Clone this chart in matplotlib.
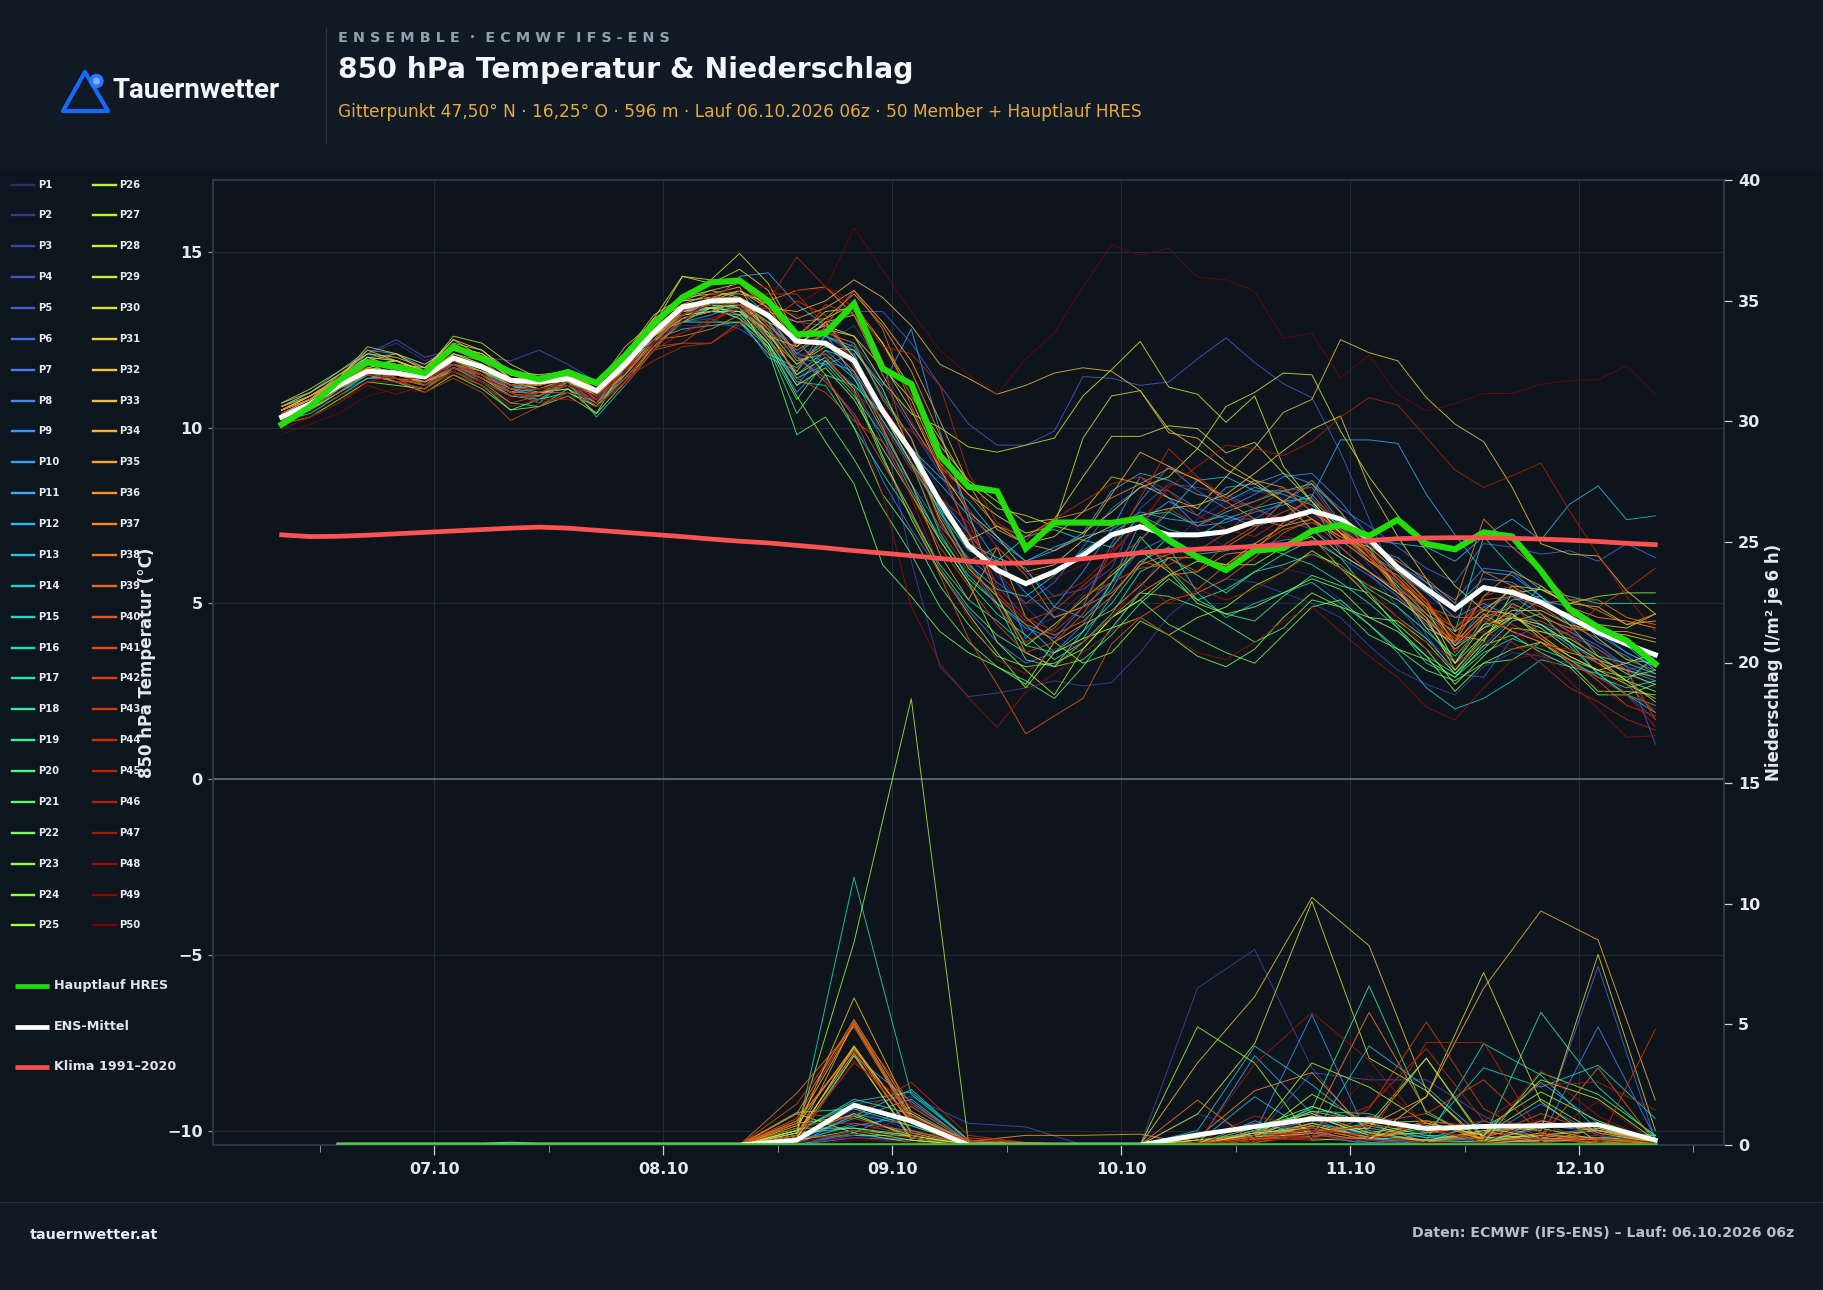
import matplotlib
matplotlib.use('Agg')
import matplotlib.pyplot as plt
import matplotlib.dates as mdates
import pandas as pd
from matplotlib.lines import Line2D
from matplotlib.patches import Circle, Polygon, Rectangle
from matplotlib.transforms import IdentityTransform

# 850 hPa temperature, 3-hourly from 06.10. 08:00 local, one row per member
temp_members = [
    [10.4,10.8,11.2,11.6,11.5,11.3,11.9,11.8,11.5,11.4,11.3,10.9,11.6,12.4,12.9,12.9,12.9,
     12.8,12.4,12.6,12.2,11.0,9.6,8.2,6.9,5.4,4.2,4.6,5.3,6.4,7.4,7.9,7.1,
     6.6,6.2,6.0,5.8,5.1,4.6,4.2,3.6,3.1,3.9,4.2,4.0,3.4,2.9,2.4,2.0],
    [10.5,10.9,11.5,12.1,12.4,11.9,12.2,11.9,11.6,11.5,11.2,10.8,11.5,12.6,13.3,13.4,13.3,
     12.9,12.0,12.4,12.9,11.7,10.2,8.7,7.1,5.8,4.9,4.1,3.6,4.2,5.4,6.6,7.4,
     7.9,8.2,8.0,7.5,7.0,6.1,5.2,4.6,3.3,4.6,5.4,5.0,4.3,3.6,3.1,2.6],
    [10.3,10.6,11.0,11.5,11.3,11.1,11.7,11.5,11.2,11.1,11.2,10.9,11.7,12.6,13.2,13.3,13.2,
     13.0,12.2,12.6,12.1,10.1,6.2,3.2,2.35,2.45,2.6,2.8,2.65,2.75,3.6,4.65,5.3,
     5.7,5.6,5.3,5.0,4.6,3.8,3.1,2.7,2.4,3.2,3.6,3.5,3.3,3.0,2.4,1.7],
    [10.5,10.8,11.4,12.0,12.1,11.8,12.3,12.0,11.9,12.2,11.8,11.3,11.9,12.5,13.0,13.1,12.8,
     12.3,11.4,11.9,12.4,11.3,10.0,8.7,7.7,6.6,5.9,5.2,5.4,6.0,7.7,8.4,8.3,
     8.1,7.7,7.4,7.1,6.6,5.9,4.9,4.0,3.3,3.8,4.6,4.2,3.9,3.4,3.1,3.3],
    [10.4,10.7,11.3,12.1,12.5,12.0,12.2,11.9,11.5,11.5,11.3,11.0,11.6,12.5,13.1,13.3,13.3,
     13.4,13.0,12.9,13.3,13.3,12.4,11.2,10.1,9.5,9.5,9.9,11.45,11.4,11.2,11.3,11.95,
     12.55,11.85,11.25,10.85,9.3,7.4,5.5,4.1,3.0,2.9,4.0,4.4,4.1,3.7,3.2,1.0],
    [10.4,10.8,11.4,11.9,11.7,11.4,11.9,11.6,11.2,11.2,11.4,11.1,11.9,12.8,13.3,13.4,13.4,
     13.0,12.1,11.9,11.2,9.6,8.4,7.2,6.3,5.6,5.0,5.6,6.6,7.7,8.3,8.2,7.7,
     7.4,7.4,7.9,8.4,7.7,7.2,6.6,6.0,5.6,6.7,6.6,6.4,6.5,6.2,6.7,6.3],
    [10.3,10.6,11.1,11.6,11.6,11.3,11.7,11.5,10.9,10.8,11.3,10.9,11.7,12.9,13.2,13.4,13.3,
     12.8,12.0,11.4,10.3,8.5,7.1,5.9,4.8,3.9,3.3,3.6,4.4,5.6,6.5,6.9,6.2,
     6.0,6.6,6.8,6.9,6.3,5.8,5.2,4.4,3.8,4.9,5.2,4.7,4.2,3.8,3.2,2.9],
    [10.2,10.5,11.0,11.4,11.4,11.2,11.8,11.5,11.0,11.1,11.2,10.7,11.5,12.4,13.3,13.5,13.4,
     12.6,11.2,12.2,11.5,10.2,9.0,7.6,6.2,5.0,4.3,4.0,4.9,6.7,7.9,8.9,8.2,
     7.7,8.1,8.6,8.7,7.9,6.9,6.1,5.6,5.1,6.0,5.9,5.2,4.6,4.1,3.6,3.2],
    [10.4,10.7,11.2,11.7,11.6,11.5,11.8,11.4,11.0,11.0,11.2,10.9,12.0,12.9,13.2,13.3,13.2,
     12.4,11.0,11.9,11.6,10.4,9.2,8.0,7.0,6.0,4.0,4.9,5.9,7.1,8.6,8.0,7.2,
     7.3,7.6,7.8,8.1,7.2,6.4,5.9,5.3,4.6,5.0,4.6,4.4,3.9,3.3,3.1,2.8],
    [10.5,10.9,11.4,12.0,11.9,11.5,11.9,11.7,11.1,10.9,11.5,11.0,11.6,12.6,13.4,13.4,13.1,
     12.0,11.6,12.6,12.2,11.2,12.8,9.9,7.4,6.2,5.3,4.6,4.9,5.6,7.3,7.9,7.5,
     8.3,8.4,8.7,8.4,7.3,6.6,6.3,5.6,4.9,5.7,5.6,5.1,4.5,3.9,3.5,3.0],
    [10.6,11.0,11.6,12.2,12.1,11.7,11.8,11.5,11.1,11.2,11.6,11.2,11.9,12.8,13.3,13.5,14.3,
     14.4,13.5,12.9,12.0,10.6,9.3,8.4,7.5,6.8,6.2,6.6,6.9,7.1,7.6,7.4,7.3,
     7.5,7.2,7.4,8.05,9.65,9.65,9.55,8.1,6.95,5.9,5.8,5.2,4.5,4.2,3.6,3.2],
    [10.4,10.7,11.3,11.8,11.8,11.4,11.7,11.4,11.1,11.0,11.0,10.6,11.4,12.3,13.0,13.2,13.5,
     13.2,12.0,11.8,12.1,10.4,9.4,8.6,7.9,6.9,6.2,6.5,7.0,8.2,8.7,8.5,8.1,
     7.9,8.3,8.1,7.8,7.2,6.8,6.7,6.6,6.2,6.9,7.4,6.8,7.82,8.34,7.38,7.49],
    [10.3,10.6,11.2,11.9,11.7,11.5,11.9,11.6,11.0,10.7,11.4,10.9,11.5,12.5,13.2,13.4,13.9,
     13.2,12.1,12.7,11.4,10.2,8.9,7.7,6.7,6.3,6.0,4.9,4.6,5.4,6.8,7.6,8.5,
     8.6,8.2,8.2,7.9,6.4,5.9,5.3,4.7,3.8,4.3,4.6,5.1,4.9,4.4,3.8,3.1],
    [10.5,10.8,11.3,11.9,11.6,11.2,11.6,11.3,10.9,10.8,11.3,10.3,11.2,12.2,13.1,13.4,13.5,
     12.8,11.4,11.8,10.9,9.8,8.2,6.9,5.8,5.0,4.4,3.6,4.0,5.2,6.2,6.6,5.3,
     4.6,5.0,5.3,5.6,5.0,4.4,3.6,2.6,2.0,2.3,2.8,3.4,3.2,3.0,2.4,2.1],
    [10.4,10.6,11.1,11.6,11.3,11.1,11.7,11.4,11.1,11.3,11.4,11.0,11.8,12.5,12.8,12.9,13.0,
     12.1,11.7,12.6,12.3,10.9,9.7,7.7,6.1,5.4,5.2,5.8,6.5,7.0,7.5,7.6,7.2,
     7.6,7.9,8.2,8.4,7.6,6.6,5.4,4.3,3.3,4.6,4.9,4.4,3.8,3.0,2.4,1.9],
    [10.4,10.7,11.3,11.9,11.8,11.5,11.9,11.7,11.2,11.2,11.5,11.2,11.8,12.9,13.6,13.7,13.4,
     12.7,11.5,12.2,11.9,10.5,9.2,7.6,6.5,6.2,6.9,7.1,6.8,6.6,7.5,7.1,6.9,
     7.4,7.7,7.9,8.0,7.1,6.3,5.5,4.7,4.2,6.9,6.0,5.4,5.2,5.0,5.0,5.0],
    [10.3,10.5,11.0,11.5,11.4,11.2,11.7,11.3,10.7,10.6,11.1,10.7,11.7,12.6,13.4,13.6,13.4,
     12.5,11.3,11.2,10.0,8.7,7.5,6.1,5.1,4.5,3.8,3.6,4.2,5.0,6.1,6.9,6.4,
     6.5,6.7,6.4,6.1,5.6,5.0,4.3,3.3,2.9,3.6,4.0,3.7,3.4,2.9,2.6,2.8],
    [10.2,10.4,10.9,11.4,11.5,11.4,11.9,11.6,11.2,11.0,11.1,10.6,11.5,12.5,13.2,13.5,13.6,
     13.0,11.9,12.1,11.4,9.9,8.4,6.8,5.6,4.7,4.1,3.4,3.9,4.7,5.9,6.3,5.8,
     5.3,5.9,6.1,6.4,6.1,5.4,4.9,4.2,3.5,4.4,5.1,5.2,4.4,3.5,3.3,3.0],
    [10.3,10.6,11.2,11.7,11.6,11.4,12.1,11.8,11.3,11.1,11.3,10.9,11.8,12.8,13.5,13.5,13.2,
     12.3,10.4,11.5,11.2,10.4,9.0,7.0,5.7,5.0,3.4,3.2,4.2,5.6,6.9,6.0,5.1,
     5.4,5.9,6.4,6.8,6.3,5.3,4.6,4.0,3.1,4.0,4.6,5.5,4.9,4.0,3.4,3.3],
    [10.6,11.0,11.5,12.1,11.9,11.6,12.3,12.1,11.6,11.4,11.5,11.2,12.0,12.7,13.0,13.0,13.0,
     12.3,10.8,11.9,11.0,9.1,7.6,6.0,4.9,4.1,3.6,3.2,3.4,4.1,5.0,5.7,5.1,
     4.7,4.5,5.2,5.8,5.5,5.3,4.3,3.5,3.0,3.7,4.5,4.7,3.9,3.0,2.8,3.5],
    [10.3,10.5,11.0,11.6,11.5,11.3,11.6,11.2,10.5,10.8,11.0,10.6,11.6,12.7,13.4,13.5,13.4,
     12.2,9.8,10.3,9.1,7.7,6.4,4.9,3.9,3.2,2.8,2.3,3.2,4.3,5.3,5.2,4.9,
     4.4,3.9,4.3,5.1,4.9,4.1,3.7,3.1,2.8,3.3,3.4,3.9,3.4,3.1,2.9,3.1],
    [10.2,10.5,11.1,11.5,11.3,11.0,11.5,11.1,10.5,10.6,10.9,10.4,11.8,12.9,13.7,13.9,13.7,
     13.1,12.5,11.5,10.0,8.1,7.0,5.5,4.4,3.5,3.2,3.3,3.7,4.6,5.1,4.4,4.0,
     3.6,3.3,4.1,4.9,5.1,4.4,3.7,3.4,2.9,3.8,4.1,3.6,3.2,2.4,2.4,2.7],
    [10.4,10.7,11.3,11.8,11.5,11.3,11.7,11.4,10.9,10.9,11.3,11.0,11.7,13.0,13.5,13.4,13.1,
     12.4,10.9,9.6,8.4,6.1,5.2,4.2,3.6,3.2,2.7,3.9,3.3,3.6,4.5,4.1,3.5,
     3.2,3.7,4.6,5.3,4.9,4.6,4.2,3.5,2.5,3.3,3.7,3.9,3.3,2.5,2.5,2.4],
    [10.5,10.8,11.5,12.0,11.7,11.4,11.8,11.6,11.3,11.1,11.4,11.1,11.9,12.6,13.1,13.3,13.6,
     12.8,11.8,12.3,12.2,11.1,9.3,7.4,6.0,5.2,3.8,4.4,5.1,5.8,6.5,5.9,5.0,
     4.7,4.9,5.3,5.7,5.4,4.6,4.5,3.9,3.0,3.9,5.3,5.4,5.0,5.2,5.3,5.3],
    [10.1,10.3,10.8,11.3,11.2,11.1,11.6,11.3,10.9,11.0,11.1,10.4,11.3,12.3,13.0,13.4,13.3,
     12.7,11.5,12.0,11.1,9.2,7.4,5.9,4.7,3.6,2.6,3.6,4.0,4.3,4.6,4.1,4.6,
     4.9,5.5,5.9,6.5,6.0,5.5,5.1,4.5,3.3,4.1,4.6,4.4,3.9,3.4,2.8,2.5],
    [10.3,10.6,11.2,11.7,11.6,11.5,12.1,11.8,11.4,11.3,11.3,11.0,11.7,12.5,13.2,13.3,13.3,
     12.4,11.2,11.7,10.8,9.4,8.1,6.8,5.6,3.9,3.1,2.4,3.7,4.6,5.1,5.8,6.2,
     6.1,6.1,6.6,6.9,6.0,5.2,4.4,3.7,2.7,3.5,4.3,4.2,4.0,3.5,3.0,2.7],
    [10.6,10.9,11.3,11.7,11.9,11.6,12.2,12.0,11.5,11.3,11.6,11.3,11.9,12.6,13.3,13.4,13.5,
     13.0,12.6,12.9,12.6,11.3,10.4,10.0,9.45,9.3,9.5,9.7,10.9,11.65,12.45,11.15,10.95,
     10.15,10.9,8.9,7.9,7.0,6.5,5.7,4.9,3.3,4.4,4.6,4.3,3.7,3.3,2.8,2.2],
    [10.7,11.1,11.6,12.1,12.0,11.7,12.5,12.2,11.6,11.5,11.6,11.1,12.1,13.1,14.3,14.1,14.5,
     13.9,12.5,13.1,13.5,12.4,10.9,9.7,8.4,7.7,7.5,7.2,7.0,7.6,8.3,8.6,9.4,
     10.6,11.0,11.55,11.5,9.9,8.6,7.5,6.5,5.5,4.8,5.4,5.0,4.7,4.4,4.3,4.7],
    [10.4,10.7,11.3,11.8,11.9,11.6,12.6,12.4,11.8,11.4,11.5,11.1,11.8,12.9,14.3,14.2,14.95,
     14.1,12.6,13.3,13.4,12.4,11.1,9.5,8.5,7.9,7.3,7.4,8.6,9.75,9.75,10.05,9.97,
     9.28,9.58,8.7,7.9,7.0,6.3,5.4,4.6,3.1,4.1,4.7,4.1,3.5,3.1,2.7,2.3],
    [10.3,10.7,11.3,12.0,11.9,11.6,12.4,12.2,11.5,11.3,11.4,11.0,12.1,12.8,13.5,13.6,13.9,
     13.5,12.4,12.8,12.6,11.7,10.8,9.0,8.1,7.5,7.0,7.2,9.7,10.9,11.05,9.95,9.4,
     8.8,8.4,7.9,7.1,6.4,5.9,5.3,4.6,3.7,4.3,4.8,4.8,4.4,4.2,4.1,3.9],
    [10.5,10.9,11.4,11.9,11.8,11.7,12.3,12.0,11.4,11.3,11.5,11.1,12.0,13.1,13.6,13.7,13.9,
     13.4,12.3,13.0,13.2,11.8,10.5,8.8,7.6,6.9,5.9,6.1,6.8,7.2,7.5,7.7,7.8,
     8.1,8.7,9.34,9.95,10.33,8.3,6.9,5.7,4.2,4.8,4.7,4.0,3.5,3.1,3.3,3.6],
    [10.5,10.9,11.4,12.3,12.1,11.6,12.5,12.0,11.4,11.4,11.4,11.1,12.1,13.2,13.7,13.8,14.0,
     12.6,12.3,13.0,12.0,10.4,9.0,7.9,6.8,7.2,6.7,6.9,7.6,8.6,8.4,8.0,7.7,
     8.6,9.43,10.43,10.8,12.5,12.13,11.9,10.85,10.1,9.6,8.3,6.7,6.4,6.35,5.36,4.7],
    [10.7,11.0,11.5,11.9,12.1,11.8,12.3,12.1,11.5,11.4,11.6,11.2,12.3,13.0,13.6,13.9,14.1,
     13.4,13.3,13.6,14.2,13.7,12.9,11.8,11.4,10.95,11.2,11.55,11.7,11.6,11.05,9.85,9.7,
     9.0,8.5,7.9,7.4,6.9,6.6,5.9,5.1,3.8,4.6,5.5,5.4,5.0,4.9,4.4,4.5],
    [10.4,10.8,11.4,12.2,11.9,11.6,12.3,12.1,11.4,11.2,11.5,11.2,12.0,13.0,13.5,13.8,13.8,
     13.6,13.1,13.4,13.9,13.0,11.9,10.2,8.4,7.1,6.7,6.5,6.9,8.1,9.3,8.9,8.5,
     8.0,8.5,8.3,7.6,7.1,6.5,5.4,4.3,3.9,4.7,4.2,3.9,3.6,3.4,3.1,2.9],
    [10.5,10.8,11.3,11.9,11.7,11.5,12.1,11.9,11.3,11.2,11.4,11.1,11.9,12.9,13.3,13.6,13.7,
     12.6,11.8,12.4,11.6,10.0,8.4,6.4,5.1,6.6,4.6,3.9,4.4,4.8,5.5,6.3,6.3,
     6.1,6.7,7.2,7.4,6.8,6.2,5.6,4.9,4.1,3.95,5.0,4.6,4.3,4.2,4.2,4.0],
    [10.5,10.8,11.4,11.8,11.7,11.6,12.0,11.7,11.2,11.4,11.5,11.2,11.8,12.6,13.2,13.6,13.5,
     13.3,13.0,13.1,13.8,12.9,11.6,9.8,7.6,5.2,3.6,3.2,3.9,4.6,5.3,5.8,5.9,
     6.4,6.5,7.3,7.7,7.0,6.2,5.8,5.0,3.9,5.2,5.9,5.5,4.9,4.6,4.5,4.3],
    [10.6,10.9,11.4,11.7,11.5,11.3,11.7,11.5,11.0,11.3,11.4,10.9,11.7,12.5,12.6,12.8,13.2,
     13.6,13.9,14.0,13.2,11.5,10.1,8.9,8.1,7.2,6.9,7.4,7.6,8.0,8.4,8.84,8.53,
     7.9,7.4,7.2,7.6,7.0,6.7,6.2,5.7,5.0,7.4,6.6,5.9,5.1,4.8,4.4,4.7],
    [10.5,10.8,11.5,11.9,11.4,11.3,11.9,11.6,11.1,11.1,11.4,10.8,11.6,12.5,13.3,13.7,13.7,
     12.9,12.2,12.7,12.4,10.8,9.7,7.5,6.2,6.6,5.8,4.6,4.9,5.3,6.1,6.4,6.6,
     6.6,7.1,7.9,8.5,7.6,6.4,5.3,4.5,3.9,5.9,5.5,5.0,5.1,5.1,4.6,4.4],
    [10.4,10.7,11.3,11.6,11.5,11.4,11.9,11.5,11.0,11.3,11.5,10.9,11.5,12.4,13.2,13.5,13.6,
     12.5,11.6,12.9,13.9,12.8,10.6,8.9,7.0,5.2,4.4,4.1,4.5,5.2,6.2,6.0,5.4,
     6.1,6.6,7.1,7.3,6.9,6.5,5.7,4.8,4.3,5.1,5.2,4.9,4.4,4.0,3.4,3.1],
    [10.4,10.7,11.2,11.5,11.3,11.3,11.7,11.4,11.0,11.0,11.3,10.7,11.4,12.3,13.1,13.3,13.6,
     13.2,12.0,11.3,10.4,9.0,7.6,5.8,4.0,2.7,1.29,1.8,2.3,3.85,4.6,5.1,5.3,
     5.7,6.3,7.0,7.4,6.6,5.9,5.4,4.9,4.6,4.6,4.2,3.9,3.4,2.8,2.1,1.8],
    [10.3,10.6,11.2,11.6,11.4,11.2,11.5,11.2,10.7,10.9,11.2,10.6,11.3,12.2,12.4,12.4,13.0,
     12.9,11.4,11.0,10.2,9.6,8.1,6.6,5.5,4.4,3.6,3.9,4.7,5.9,6.5,6.3,5.9,
     6.7,7.2,7.6,7.9,7.3,6.7,6.0,5.1,3.6,4.7,4.6,4.5,4.1,3.4,2.7,1.9],
    [10.2,10.6,11.2,11.5,11.4,11.0,11.4,11.0,10.2,10.6,11.0,10.8,11.6,12.3,12.4,13.0,13.5,
     13.0,13.6,13.2,11.7,10.6,9.4,7.3,6.1,4.9,3.9,4.3,5.2,5.6,6.0,6.1,6.5,
     7.0,7.7,8.2,8.3,7.2,6.3,5.6,4.7,4.0,5.2,5.5,4.7,4.2,3.7,3.1,1.7],
    [10.4,10.7,11.3,11.7,11.4,11.2,11.7,11.5,11.2,11.2,11.4,11.0,11.6,12.3,13.0,13.6,13.7,
     12.1,12.4,13.5,13.2,11.9,9.0,7.1,5.9,5.3,4.5,4.8,5.5,6.2,6.8,7.7,7.2,
     7.7,7.9,8.3,7.6,7.1,6.5,5.7,5.0,4.3,4.9,4.4,4.0,4.2,4.9,5.4,6.0],
    [10.3,10.6,11.1,11.6,11.5,11.4,11.8,11.3,10.9,11.0,11.2,11.0,11.8,12.8,13.2,13.5,13.7,
     13.8,13.8,12.9,11.9,10.1,8.8,8.0,7.3,5.5,4.6,4.2,4.9,6.5,8.0,9.4,8.6,
     8.0,7.7,7.3,7.7,6.9,6.3,5.4,4.6,3.9,4.5,5.0,4.1,3.3,2.9,2.4,2.1],
    [10.4,10.6,11.0,11.6,11.5,11.4,11.9,11.5,11.2,11.3,11.2,10.9,11.4,11.9,12.3,12.4,12.9,
     13.6,14.85,14.0,13.4,12.3,12.1,11.2,8.7,7.3,6.8,7.4,7.9,8.4,8.6,8.2,7.5,
     7.1,6.9,7.4,8.0,7.3,6.4,5.6,5.1,4.0,4.2,3.9,3.3,2.6,2.2,1.7,1.4],
    [10.2,10.5,10.9,11.3,11.5,11.4,11.8,11.5,11.0,10.7,10.9,10.7,11.2,12.2,12.7,13.1,13.4,
     13.4,13.2,12.0,11.0,10.3,9.9,9.0,7.0,5.9,5.0,5.2,5.6,6.4,7.3,8.3,8.9,
     9.5,9.4,9.2,9.6,10.3,10.85,10.64,9.72,8.79,8.3,8.63,8.99,7.63,6.4,5.2,4.2],
    [10.1,10.3,10.7,11.3,11.3,11.1,11.6,11.2,10.6,10.8,10.8,10.6,11.3,12.4,12.7,13.0,13.4,
     12.8,12.0,12.1,11.0,9.9,8.0,6.0,4.6,3.4,3.0,3.7,3.9,4.6,5.6,5.0,5.4,
     5.1,5.4,5.9,6.4,6.0,5.3,4.6,3.7,3.2,3.9,3.7,3.8,3.7,3.3,2.4,1.5],
    [9.95,10.3,10.7,11.2,10.95,11.2,11.6,11.3,10.9,10.95,11.0,10.8,11.6,12.5,13.2,13.5,13.5,
     13.3,12.5,11.4,10.4,8.1,4.9,3.3,2.32,1.48,2.48,3.0,3.6,4.2,4.6,4.1,3.6,
     3.4,3.9,4.5,4.9,4.2,3.5,2.9,2.05,1.69,2.6,3.4,3.6,2.8,2.0,1.19,1.24],
    [10.3,10.6,11.2,11.5,11.4,11.4,11.7,11.4,11.1,11.1,11.2,10.9,11.6,12.7,13.3,13.8,13.9,
     14.0,13.5,14.0,13.6,12.3,10.9,9.1,7.6,6.6,5.9,5.7,6.1,6.5,7.2,8.4,8.2,
     7.8,7.3,6.9,6.8,6.1,5.5,4.6,3.9,3.4,4.5,4.3,3.5,3.1,2.6,2.1,1.8],
    [9.8,10.1,10.4,10.9,11.1,11.0,11.6,11.3,10.8,11.1,11.3,11.1,12.0,12.4,13.0,13.7,14.1,
     14.0,13.9,13.94,15.68,14.47,13.3,12.2,11.5,10.95,11.95,12.7,14.0,15.2,14.9,15.1,14.28,
     14.2,13.88,12.54,12.68,11.42,12.06,10.95,10.47,10.68,10.97,10.97,11.23,11.34,11.36,11.76,10.93],
]

temp_hres = [10.09,10.6,11.34,11.86,11.72,11.55,12.3,11.96,11.58,11.37,11.58,11.27,12.05,12.95,13.7,14.13,14.18,
             13.6,12.65,12.68,13.52,11.68,11.24,9.21,8.32,8.19,6.56,7.3,7.3,7.29,7.42,6.79,6.32,
             5.95,6.5,6.57,7.06,7.23,6.92,7.38,6.69,6.54,7.02,6.9,5.93,4.84,4.32,3.94,3.28]
temp_mean = [10.3,10.68,11.2,11.6,11.55,11.44,11.98,11.72,11.34,11.3,11.39,11.04,11.8,12.7,13.42,13.6,13.63,
             13.19,12.46,12.4,11.9,10.47,9.32,7.9,6.64,5.95,5.56,5.9,6.37,6.95,7.18,6.95,6.95,
             7.04,7.32,7.4,7.63,7.4,6.83,6.02,5.41,4.84,5.45,5.31,5.03,4.6,4.18,3.84,3.54]
temp_clima = [6.95,6.9,6.91,6.94,6.98,7.02,7.06,7.1,7.14,7.17,7.14,7.08,7.02,6.96,6.9,6.83,6.77,
              6.72,6.65,6.58,6.5,6.43,6.36,6.28,6.2,6.14,6.15,6.2,6.27,6.36,6.44,6.5,6.54,
              6.58,6.62,6.67,6.71,6.75,6.79,6.84,6.86,6.87,6.87,6.85,6.83,6.8,6.76,6.71,6.67]

# 6 h precipitation from 06.10. 14:00, dry until the 08.10. morning
dry = [0, 0, 0, 0, 0, 0, 0, 0]
prec_members = [
    dry + [.1,.3,.1,0,0,0,0,0,.2,.3,.1,0,0,.2,.1,0],
    dry + [0,1.4,.4,0,0,0,0,1.3,.5,1.0,.3,.1,0,.2,.4,.1],
    dry + [.1,1.5,.6,0,0,0,0,6.5,8.1,3.2,.3,0,0,.2,.4,.1],
    dry + [.2,1.7,2.0,.9,.75,0,0,0,.3,3.0,2.7,2.7,1.2,.1,0,.1],
    dry + [0,.4,.2,0,0,0,0,0,.5,1.4,.2,.4,.1,1.0,.6,.1],
    dry + [0,.6,.4,0,0,0,0,.2,.4,.3,.1,0,.2,.7,7.4,.2],
    dry + [.1,.9,.6,0,0,0,0,0,.6,.5,0,.1,.3,1.7,.4,.1],
    dry + [0,.3,.2,0,0,0,0,.1,.3,1.1,.2,0,.1,.3,4.9,.3],
    dry + [0,1.3,.8,.1,0,0,0,0,.5,5.4,.25,.1,0,.4,.7,.1],
    dry + [.1,3.7,1.8,.1,0,0,0,.3,.9,.6,.1,.2,.5,2.6,.9,.1],
    dry + [.2,.8,1.2,.1,0,0,0,0,3.7,1.3,.3,0,.2,.2,.3,.2],
    dry + [0,.5,1.6,.1,0,0,0,.1,2.0,.5,.7,.3,.8,.2,.1,.3],
    dry + [.3,1.1,1.9,.1,0,0,0,.6,4.1,2.5,.6,.1,1.0,.3,.2,.4],
    dry + [.2,1.2,2.3,.2,0,0,0,0,1.0,.3,4.1,2.4,.3,.1,.3,.4],
    dry + [.6,1.8,2.2,.2,0,0,0,0,.6,1.4,1.3,.5,3.2,2.4,3.3,1.1],
    [0,0,0,.12,0,0,0,0] + [.4,11.1,2.1,.2,0,0,0,.1,.3,.9,.5,.2,4.2,2.9,.6,.4],
    dry + [.5,1.9,1.3,.1,0,0,0,0,.2,1.6,.8,.3,.3,.4,.2,.1],
    dry + [.6,1.7,.9,0,0,0,0,0,.2,.5,.9,.4,.3,5.5,2.4,.3],
    dry + [1.35,1.5,.8,0,0,0,0,.2,.5,1.5,6.6,1.3,.2,.3,.1,.2],
    dry + [.5,.7,.3,0,0,0,0,0,.6,1.2,.4,.2,.1,.8,.6,.1],
    dry + [.3,.4,.4,0,0,0,0,0,.3,.8,.3,.7,.1,3.0,2.1,.4],
    dry + [1.3,.5,.1,0,0,0,0,.1,.7,1.6,.9,3.6,.2,.4,.3,.2],
    dry + [.9,1.2,.4,0,0,0,0,.3,.8,1.3,.5,.9,.4,1.9,.5,.1],
    dry + [.7,.7,.4,0,0,0,0,4.9,3.4,.2,.3,.8,.7,2.2,1.0,.2],
    dry + [.6,8.4,18.5,.1,0,0,0,.2,.4,.9,.3,.2,.6,.7,.2,.1],
    dry + [.2,.6,.2,0,0,0,0,0,.3,2.1,.9,1.0,.7,.3,.1,.1],
    dry + [.4,1.3,.3,0,0,0,0,.1,.4,3.4,2.4,.9,.4,2.7,1.9,.2],
    dry + [.3,3.7,.3,0,0,0,0,1.28,4.2,10.1,3.6,2.25,.1,.5,.1,.2],
    dry + [.3,4.1,.5,0,0,0,0,0,.5,.7,.2,2.0,7.15,1.8,.1,.2],
    dry + [.5,3.8,.2,0,0,0,0,0,.4,1.2,.4,.5,.8,.6,7.9,.6],
    dry + [.8,4.1,.9,0,0,0,0,.1,.2,.6,.7,3.6,.3,.4,.6,.2],
    dry + [.6,6.1,1.3,0,0,0,0,3.4,6.15,10.26,8.26,2.25,0,.3,.1,0],
    dry + [.9,5.0,1.1,.1,0,0,0,.2,.2,.8,.3,1.0,.2,.1,.7,.1],
    dry + [.4,4.0,1.0,0,0,0,0,0,.3,.5,.8,2.0,6.5,9.7,8.5,1.86],
    dry + [.3,5.1,1.2,.15,.4,.4,.45,0,.4,1.4,.9,.1,.6,.1,.3,.1],
    dry + [1.3,5.2,1.4,.1,0,0,0,.3,2.25,3.0,.5,.2,.3,1.0,.6,.1],
    dry + [1.0,4.0,.9,0,0,0,0,0,.2,.9,5.5,1.4,.1,.2,.1,.1],
    dry + [2.15,4.9,1.0,.1,0,0,0,1.86,.1,.5,.2,.1,.5,.4,.2,.1],
    dry + [1.0,3.9,.6,.05,0,0,0,0,.2,.3,1.2,.6,.2,.3,3.2,.1],
    dry + [1.1,5.1,.9,.2,.1,0,0,0,.2,.7,.2,.9,.3,1.3,.5,.2],
    dry + [1.7,5.0,1.7,.2,0,0,0,0,.6,.3,.9,1.3,2.7,.5,.2,.1],
    dry + [1.3,1.1,.5,.3,.1,0,0,0,.3,.2,1.5,5.1,1.5,.3,.1,0],
    dry + [.9,.9,.4,.1,0,0,0,0,.1,.4,.2,1.0,.7,.9,.05,4.8],
    dry + [.7,1.2,2.6,.4,.1,0,0,.1,.2,.7,1.6,4.0,1.0,.2,.3,.1],
    dry + [.4,3.4,1.6,.2,0,0,0,.1,1.2,.7,.3,4.25,4.25,.45,.1,0],
    dry + [.3,.4,1.2,.1,0,0,0,0,.4,.5,.8,.7,1.0,2.5,2.6,1.45],
    dry + [.2,3.5,1.1,.1,0,0,0,.1,3.35,5.5,3.5,.7,.2,3.1,1.2,.1],
    dry + [.1,.6,.3,0,0,0,0,0,.9,.6,.4,.1,.1,.3,1.8,.1],
    dry + [.1,.3,.1,0,0,0,0,0,.3,.4,2.9,.7,.1,1.1,.4,.1],
    dry + [0,.2,.1,0,0,0,0,0,.2,.3,.2,.1,.05,.1,.2,0],
]
prec_hres = [0] * 24
prec_mean = dry + [.2,1.65,1.0,0,0,0,0,.42,.76,1.08,1.05,.68,.77,.8,.84,.2]

member_labels = ['P%d' % n for n in range(1, 51)]

BG = '#0d151e'
BAR = '#101a25'
PLOT = '#0d141c'
GRID = '#212b35'
SPINE = '#2d3945'
TXT = '#e4e9ee'

t_temp = pd.date_range('2026-10-06 08:00', periods=49, freq='3h')
t_prec = pd.date_range('2026-10-06 14:00', periods=24, freq='6h')

W, H = 1824, 1290
fig = plt.figure(figsize=(W / 100, H / 100), dpi=100, facecolor=BG)

def px(x, y):
    return x / W, 1 - y / H

# header and footer bands
fig.add_artist(Rectangle((0, 1 - 170 / H), 1, 170 / H, transform=fig.transFigure, color=BAR, zorder=0))
fig.add_artist(Rectangle((0, 0), 1, 88 / H, transform=fig.transFigure, color=BAR, zorder=0))
fig.add_artist(Line2D([0, 1], [88 / H, 88 / H], color='#222d38', lw=0.8))
fig.add_artist(Line2D(*zip(px(326, 28), px(326, 143)), color='#2a3540', lw=0.8))

# logo
logo_blue = '#1a66ff'
fig.add_artist(Polygon([px(85, 72), px(63, 111), px(108, 111)], closed=True, transform=fig.transFigure,
                       fill=False, edgecolor=logo_blue, lw=3.0, joinstyle='round'))
fig.add_artist(Circle((96.5, H - 81), 6.5, transform=IdentityTransform(), color='#2a76ff'))
fig.add_artist(Circle((96.5, H - 81), 2.8, transform=IdentityTransform(), color='#7db0ff'))
fig.text(*px(113, 91), 'Tauernwetter', family='Roboto', fontweight='bold', fontsize=20,
         color='#f4f6f8', va='center')

fig.text(*px(338, 38), 'E N S E M B L E  ·  E C M W F  I F S - E N S', fontsize=10.4, fontweight='bold',
         color='#94a0ae', va='center')
fig.text(*px(338, 70), '850 hPa Temperatur & Niederschlag', fontsize=20.3, fontweight='bold',
         color='#f3f6fa', va='center')
fig.text(*px(338, 112), 'Gitterpunkt 47,50° N · 16,25° O · 596 m · Lauf 06.10.2026 06z · 50 Member + Hauptlauf HRES',
         fontsize=12.25, color='#e8a93c', va='center')

fig.text(*px(30, 1235), 'tauernwetter.at', fontsize=10.4, fontweight='bold', color='#e8ecf0', va='center')
fig.text(*px(1794, 1233), 'Daten: ECMWF (IFS-ENS) – Lauf: 06.10.2026 06z', fontsize=10.15, fontweight='bold',
         color='#b6c0ca', va='center', ha='right')

ax = fig.add_axes([213 / W, 1 - 1145 / H, (1724 - 213) / W, (1145 - 180) / H], facecolor=PLOT)
ax2 = ax.twinx()
ax.set_zorder(1)
ax2.set_zorder(2)

colors = [plt.cm.turbo(0.03 + 0.97 * n / 49) for n in range(50)]

for row, c in zip(temp_members, colors):
    ax.plot(t_temp, row, color=c, lw=0.7, alpha=0.8, zorder=2)
ax.plot(t_temp, temp_mean, color='white', lw=3.6, zorder=3, solid_joinstyle='miter')
ax.plot(t_temp, temp_hres, color='#22dd0a', lw=4.4, zorder=4, solid_joinstyle='miter')
ax.plot(t_temp, temp_clima, color='#ff5252', lw=3.4, zorder=5)
ax.axhline(0, color='#65757f', lw=1.1, zorder=1.5)

for row, c in zip(prec_members, colors):
    ax2.plot(t_prec, row, color=c, lw=0.7, alpha=0.8, zorder=2)
ax2.plot(t_prec, prec_mean, color='white', lw=3.4, zorder=3, solid_joinstyle='miter')
ax2.plot(t_prec, prec_hres, color='#35c42a', lw=3.4, zorder=4)

ax.set_ylim(-10.4, 17.04)
ax2.set_ylim(0, 40)
ax.set_yticks([-10, -5, 0, 5, 10, 15])
ax2.set_yticks(range(0, 41, 5))

ax.xaxis.set_major_locator(mdates.DayLocator())
ax.xaxis.set_major_formatter(mdates.DateFormatter('%d.%m'))
ax.xaxis.set_minor_locator(mdates.HourLocator(byhour=[12]))
ax.grid(True, which='major', color=GRID, lw=0.8)
ax.set_axisbelow(True)

ax.tick_params(axis='x', which='major', length=7.5, width=0.9, color='#c8d0d8', labelsize=11.5, labelcolor=TXT, pad=5)
ax.tick_params(axis='x', which='minor', length=5, width=0.7, color='#8896a2')
ax.tick_params(axis='y', length=3.5, width=0.9, color='#8896a2', labelsize=11.5, labelcolor=TXT, pad=4)
ax2.tick_params(axis='y', length=6, width=0.9, color='#c8d0d8', labelsize=11.5, labelcolor=TXT, pad=4)
for label in ax.get_xticklabels() + ax.get_yticklabels() + ax2.get_yticklabels():
    label.set_fontweight('bold')

ax.set_ylabel('850 hPa Temperatur (°C)', color=TXT, fontsize=12, fontweight='bold')
ax2.set_ylabel('Niederschlag (l/m² je 6 h)', color=TXT, fontsize=12, fontweight='bold')
ax.yaxis.set_label_coords(-0.0377, 0.5)
ax2.yaxis.set_label_coords(1.0271, 0.5)

for a in (ax, ax2):
    for s in a.spines.values():
        s.set_color(SPINE)
        s.set_linewidth(1.1)

# member key, two columns down the left edge
for n, (name, c) in enumerate(zip(member_labels, colors)):
    col, row = divmod(n, 25)
    y = 184.5 + row * 30.87
    x0 = 12 + col * 81.5
    fig.add_artist(Line2D(*zip(px(x0, y), px(x0 + 22.5, y)), color=c, lw=1.7))
    fig.text(*px(x0 + 26, y), name, fontsize=7.2, fontweight='bold', color='#e8ecf0', va='center')

key_rows = [('Hauptlauf HRES', '#22dd0a', 986), ('ENS-Mittel', 'white', 1027), ('Klima 1991–2020', '#f5504f', 1067)]
for name, c, y in key_rows:
    fig.add_artist(Line2D(*zip(px(15, y), px(49, y)), color=c, lw=3.4, solid_capstyle='butt'))
    fig.text(*px(54, y - 0.5), name, fontsize=9.2, fontweight='bold', color='#dfe5ea', va='center')

fig.savefig('out.png', dpi=100, facecolor=fig.get_facecolor())
